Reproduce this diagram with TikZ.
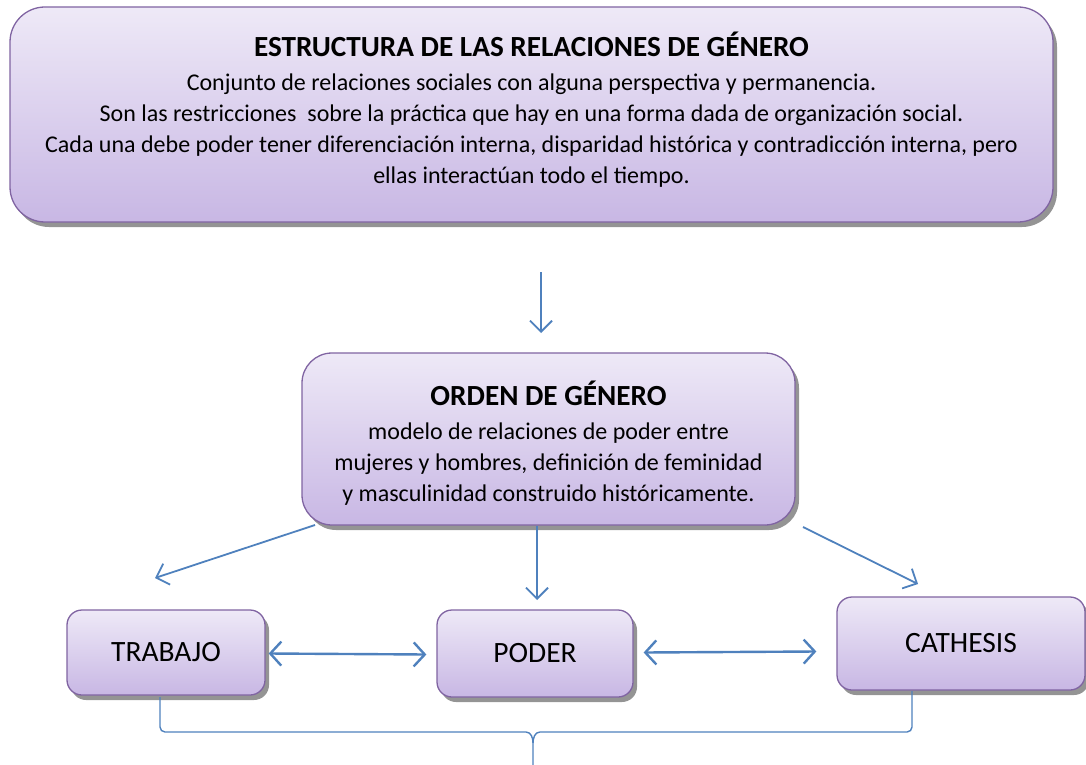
\documentclass[tikz,border=0pt]{standalone}
\usepackage{fontspec}
\setmainfont{Carlito}
\usetikzlibrary{arrows.meta,shadows,calc}
\definecolor{boxtop}{RGB}{238,233,247}
\definecolor{boxbot}{RGB}{200,183,228}
\definecolor{boxline}{RGB}{128,100,162}
\definecolor{arrowblue}{RGB}{79,129,189}
\tikzset{
  gbox/.style={draw=boxline, line width=1.3pt, top color=boxtop, bottom color=boxbot,
    drop shadow={shadow xshift=4pt, shadow yshift=-5pt, fill=black!42, opacity=1},
    align=center, inner sep=0pt},
  txt/.style={align=center, inner sep=0pt},
  conn/.style={draw=arrowblue, line width=1.8pt, -{Straight Barb[length=11pt,width=22pt]}},
  dconn/.style={draw=arrowblue, line width=2.4pt, {Straight Barb[length=11pt,width=24pt]}-{Straight Barb[length=11pt,width=24pt]}},
  bracel/.style={draw=arrowblue, line width=1.4pt},
  bodyfont/.style={font=\fontsize{24}{31}\selectfont},
  capfont/.style={font=\fontsize{29.5}{34}\selectfont}
}
\newcommand{\ttl}{\fontsize{29.2}{31}\selectfont\bfseries}
\begin{document}
\begin{tikzpicture}[x=1pt,y=-1pt]
\useasboundingbox (0,0) rectangle (1086,765);
% top box
\node[gbox, rounded corners=35pt, minimum width=1043pt, minimum height=215pt] (top) at (531.5,114.5) {};
\node[txt, bodyfont] (toptext) at ($(top.center)+(0,-5)$)
 {{\ttl ESTRUCTURA DE LAS RELACIONES DE GÉNERO}\\[3pt]
  Conjunto de relaciones sociales con alguna perspectiva y permanencia.\\
  Son las restricciones\ \ sobre la práctica que hay en una forma dada de organización social.\\
  Cada una debe poder tener diferenciación interna, disparidad histórica y contradicción interna, pero\\
  ellas interactúan todo el tiempo.};
% orden box
\node[gbox, rounded corners=30pt, minimum width=493pt, minimum height=172pt] (orden) at (548.5,439) {};
\node[txt, bodyfont] (ordentext) at ($(orden.center)+(0,4)$)
 {{\ttl ORDEN DE GÉNERO}\\[3pt]
  modelo de relaciones de poder entre\\
  mujeres y hombres, definición de feminidad\\
  y masculinidad construido históricamente.};
% small boxes
\node[gbox, rounded corners=15pt, minimum width=198pt, minimum height=85pt, capfont] (trabajo) at (166,652.5) {TRABAJO};
\node[gbox, rounded corners=15pt, minimum width=196pt, minimum height=87pt, capfont] (poder) at (535,653.5) {PODER};
\node[gbox, rounded corners=15pt, minimum width=248pt, minimum height=93pt, capfont] (cathesis) at (961,643.5) {CATHESIS};
% connector end points
\coordinate (a1) at (541,272);
\coordinate (a2) at (541,333);
\coordinate (l1) at (315,525);
\coordinate (l2) at (155,578);
\coordinate (m1) at (537,526);
\coordinate (m2) at (537,600);
\coordinate (r1) at (803,527);
\coordinate (r2) at (918,584);
\draw[conn] (a1) -- (a2);
\draw[conn] (l1) -- (l2);
\draw[conn] (m1) -- (m2);
\draw[conn] (r1) -- (r2);
\draw[dconn] ($(trabajo.east)+(3,1)$) -- ($(poder.west)+(-10,1)$);
\draw[dconn] ($(poder.east)+(10,-1)$) -- ($(cathesis.west)+(-20,8)$);
% brace
\coordinate (bl) at (160,697);
\coordinate (br) at (912,691);
\coordinate (tip) at (533,765);
\draw[bracel] (bl) -- (160,727) to[out=-90,in=180] (165,732) -- (526,732)
  to[out=0,in=90] (533,743) -- (tip);
\draw[bracel] (br) -- (912,727) to[out=-90,in=0] (907,732) -- (540,732)
  to[out=180,in=90] (533,743);
\end{tikzpicture}
\end{document}
